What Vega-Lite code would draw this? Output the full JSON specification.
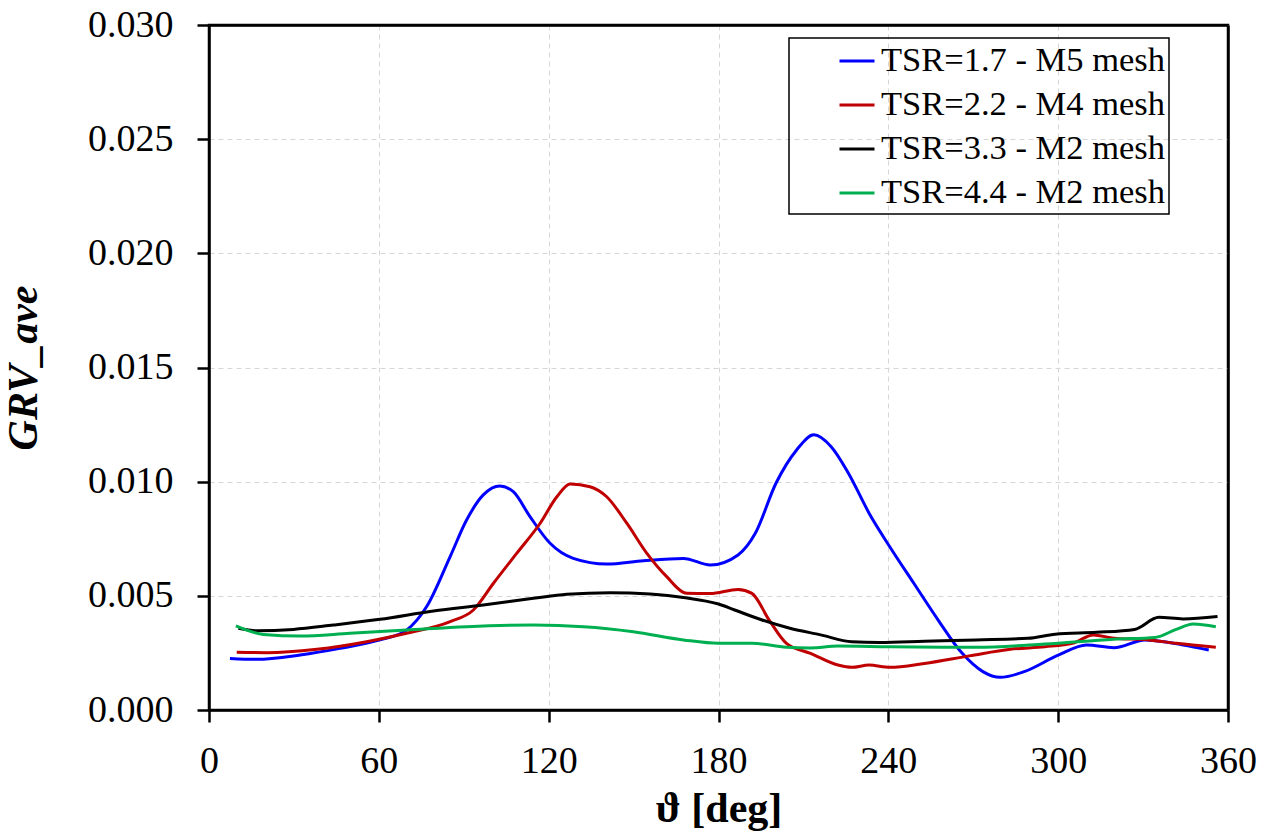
{
  "$schema": "https://vega.github.io/schema/vega-lite/v6.json",
  "width": 1019,
  "height": 685,
  "autosize": {"type": "none"},
  "padding": {"left": 209, "top": 25, "right": 49, "bottom": 126},
  "background": "white",
  "data": {"values": [
    {"s": "TSR=1.7 - M5 mesh", "x": 7.4, "y": 0.00226},
    {"s": "TSR=1.7 - M5 mesh", "x": 16.8, "y": 0.00222},
    {"s": "TSR=1.7 - M5 mesh", "x": 32.2, "y": 0.00241},
    {"s": "TSR=1.7 - M5 mesh", "x": 46.3, "y": 0.00270},
    {"s": "TSR=1.7 - M5 mesh", "x": 60.4, "y": 0.00307},
    {"s": "TSR=1.7 - M5 mesh", "x": 69.8, "y": 0.00350},
    {"s": "TSR=1.7 - M5 mesh", "x": 76.9, "y": 0.00453},
    {"s": "TSR=1.7 - M5 mesh", "x": 85.2, "y": 0.00672},
    {"s": "TSR=1.7 - M5 mesh", "x": 91.0, "y": 0.00832},
    {"s": "TSR=1.7 - M5 mesh", "x": 96.9, "y": 0.00942},
    {"s": "TSR=1.7 - M5 mesh", "x": 102.8, "y": 0.00981},
    {"s": "TSR=1.7 - M5 mesh", "x": 107.5, "y": 0.00956},
    {"s": "TSR=1.7 - M5 mesh", "x": 113.4, "y": 0.00847},
    {"s": "TSR=1.7 - M5 mesh", "x": 120.5, "y": 0.00730},
    {"s": "TSR=1.7 - M5 mesh", "x": 128.7, "y": 0.00664},
    {"s": "TSR=1.7 - M5 mesh", "x": 140.5, "y": 0.00639},
    {"s": "TSR=1.7 - M5 mesh", "x": 153.5, "y": 0.00654},
    {"s": "TSR=1.7 - M5 mesh", "x": 167.6, "y": 0.00664},
    {"s": "TSR=1.7 - M5 mesh", "x": 177.1, "y": 0.00635},
    {"s": "TSR=1.7 - M5 mesh", "x": 186.9, "y": 0.00679},
    {"s": "TSR=1.7 - M5 mesh", "x": 193.0, "y": 0.00774},
    {"s": "TSR=1.7 - M5 mesh", "x": 200.3, "y": 0.00993},
    {"s": "TSR=1.7 - M5 mesh", "x": 207.6, "y": 0.01139},
    {"s": "TSR=1.7 - M5 mesh", "x": 213.7, "y": 0.01205},
    {"s": "TSR=1.7 - M5 mesh", "x": 219.8, "y": 0.01153},
    {"s": "TSR=1.7 - M5 mesh", "x": 225.9, "y": 0.01037},
    {"s": "TSR=1.7 - M5 mesh", "x": 233.2, "y": 0.00862},
    {"s": "TSR=1.7 - M5 mesh", "x": 240.5, "y": 0.00715},
    {"s": "TSR=1.7 - M5 mesh", "x": 249.0, "y": 0.00555},
    {"s": "TSR=1.7 - M5 mesh", "x": 257.6, "y": 0.00394},
    {"s": "TSR=1.7 - M5 mesh", "x": 266.1, "y": 0.00248},
    {"s": "TSR=1.7 - M5 mesh", "x": 273.4, "y": 0.00168},
    {"s": "TSR=1.7 - M5 mesh", "x": 279.5, "y": 0.00143},
    {"s": "TSR=1.7 - M5 mesh", "x": 288.0, "y": 0.00168},
    {"s": "TSR=1.7 - M5 mesh", "x": 300.2, "y": 0.00241},
    {"s": "TSR=1.7 - M5 mesh", "x": 310.0, "y": 0.00285},
    {"s": "TSR=1.7 - M5 mesh", "x": 319.7, "y": 0.00273},
    {"s": "TSR=1.7 - M5 mesh", "x": 330.7, "y": 0.00307},
    {"s": "TSR=1.7 - M5 mesh", "x": 344.1, "y": 0.00285},
    {"s": "TSR=1.7 - M5 mesh", "x": 353.2, "y": 0.00263},

    {"s": "TSR=2.2 - M4 mesh", "x": 9.8, "y": 0.00253},
    {"s": "TSR=2.2 - M4 mesh", "x": 20.4, "y": 0.00251},
    {"s": "TSR=2.2 - M4 mesh", "x": 38.1, "y": 0.00266},
    {"s": "TSR=2.2 - M4 mesh", "x": 55.7, "y": 0.00299},
    {"s": "TSR=2.2 - M4 mesh", "x": 69.8, "y": 0.00336},
    {"s": "TSR=2.2 - M4 mesh", "x": 85.2, "y": 0.00387},
    {"s": "TSR=2.2 - M4 mesh", "x": 93.4, "y": 0.00438},
    {"s": "TSR=2.2 - M4 mesh", "x": 100.5, "y": 0.00555},
    {"s": "TSR=2.2 - M4 mesh", "x": 108.7, "y": 0.00686},
    {"s": "TSR=2.2 - M4 mesh", "x": 117.0, "y": 0.00818},
    {"s": "TSR=2.2 - M4 mesh", "x": 122.9, "y": 0.00934},
    {"s": "TSR=2.2 - M4 mesh", "x": 127.6, "y": 0.00990},
    {"s": "TSR=2.2 - M4 mesh", "x": 134.6, "y": 0.00978},
    {"s": "TSR=2.2 - M4 mesh", "x": 140.5, "y": 0.00934},
    {"s": "TSR=2.2 - M4 mesh", "x": 147.6, "y": 0.00818},
    {"s": "TSR=2.2 - M4 mesh", "x": 154.7, "y": 0.00686},
    {"s": "TSR=2.2 - M4 mesh", "x": 161.7, "y": 0.00584},
    {"s": "TSR=2.2 - M4 mesh", "x": 168.8, "y": 0.00511},
    {"s": "TSR=2.2 - M4 mesh", "x": 177.0, "y": 0.00510},
    {"s": "TSR=2.2 - M4 mesh", "x": 186.9, "y": 0.00528},
    {"s": "TSR=2.2 - M4 mesh", "x": 191.8, "y": 0.00511},
    {"s": "TSR=2.2 - M4 mesh", "x": 197.9, "y": 0.00394},
    {"s": "TSR=2.2 - M4 mesh", "x": 204.0, "y": 0.00292},
    {"s": "TSR=2.2 - M4 mesh", "x": 212.5, "y": 0.00248},
    {"s": "TSR=2.2 - M4 mesh", "x": 222.2, "y": 0.00197},
    {"s": "TSR=2.2 - M4 mesh", "x": 227.1, "y": 0.00187},
    {"s": "TSR=2.2 - M4 mesh", "x": 233.2, "y": 0.00197},
    {"s": "TSR=2.2 - M4 mesh", "x": 240.5, "y": 0.00187},
    {"s": "TSR=2.2 - M4 mesh", "x": 252.7, "y": 0.00204},
    {"s": "TSR=2.2 - M4 mesh", "x": 268.6, "y": 0.00237},
    {"s": "TSR=2.2 - M4 mesh", "x": 283.1, "y": 0.00266},
    {"s": "TSR=2.2 - M4 mesh", "x": 295.3, "y": 0.00277},
    {"s": "TSR=2.2 - M4 mesh", "x": 305.1, "y": 0.00292},
    {"s": "TSR=2.2 - M4 mesh", "x": 312.4, "y": 0.00329},
    {"s": "TSR=2.2 - M4 mesh", "x": 319.7, "y": 0.00314},
    {"s": "TSR=2.2 - M4 mesh", "x": 331.9, "y": 0.00307},
    {"s": "TSR=2.2 - M4 mesh", "x": 341.7, "y": 0.00292},
    {"s": "TSR=2.2 - M4 mesh", "x": 355.7, "y": 0.00275},

    {"s": "TSR=3.3 - M2 mesh", "x": 10.4, "y": 0.00358},
    {"s": "TSR=3.3 - M2 mesh", "x": 16.8, "y": 0.00347},
    {"s": "TSR=3.3 - M2 mesh", "x": 29.8, "y": 0.00353},
    {"s": "TSR=3.3 - M2 mesh", "x": 43.9, "y": 0.00372},
    {"s": "TSR=3.3 - M2 mesh", "x": 60.4, "y": 0.00397},
    {"s": "TSR=3.3 - M2 mesh", "x": 79.3, "y": 0.00434},
    {"s": "TSR=3.3 - M2 mesh", "x": 96.9, "y": 0.00460},
    {"s": "TSR=3.3 - M2 mesh", "x": 114.6, "y": 0.00489},
    {"s": "TSR=3.3 - M2 mesh", "x": 126.4, "y": 0.00507},
    {"s": "TSR=3.3 - M2 mesh", "x": 141.7, "y": 0.00514},
    {"s": "TSR=3.3 - M2 mesh", "x": 155.8, "y": 0.00508},
    {"s": "TSR=3.3 - M2 mesh", "x": 167.6, "y": 0.00493},
    {"s": "TSR=3.3 - M2 mesh", "x": 180.0, "y": 0.00464},
    {"s": "TSR=3.3 - M2 mesh", "x": 185.7, "y": 0.00438},
    {"s": "TSR=3.3 - M2 mesh", "x": 195.4, "y": 0.00394},
    {"s": "TSR=3.3 - M2 mesh", "x": 205.2, "y": 0.00358},
    {"s": "TSR=3.3 - M2 mesh", "x": 216.1, "y": 0.00329},
    {"s": "TSR=3.3 - M2 mesh", "x": 227.1, "y": 0.00299},
    {"s": "TSR=3.3 - M2 mesh", "x": 236.9, "y": 0.00296},
    {"s": "TSR=3.3 - M2 mesh", "x": 252.7, "y": 0.00301},
    {"s": "TSR=3.3 - M2 mesh", "x": 271.0, "y": 0.00307},
    {"s": "TSR=3.3 - M2 mesh", "x": 289.3, "y": 0.00314},
    {"s": "TSR=3.3 - M2 mesh", "x": 299.0, "y": 0.00332},
    {"s": "TSR=3.3 - M2 mesh", "x": 313.6, "y": 0.00340},
    {"s": "TSR=3.3 - M2 mesh", "x": 327.0, "y": 0.00353},
    {"s": "TSR=3.3 - M2 mesh", "x": 335.6, "y": 0.00406},
    {"s": "TSR=3.3 - M2 mesh", "x": 344.1, "y": 0.00399},
    {"s": "TSR=3.3 - M2 mesh", "x": 356.3, "y": 0.00409},

    {"s": "TSR=4.4 - M2 mesh", "x": 9.5, "y": 0.00368},
    {"s": "TSR=4.4 - M2 mesh", "x": 19.2, "y": 0.00331},
    {"s": "TSR=4.4 - M2 mesh", "x": 32.2, "y": 0.00324},
    {"s": "TSR=4.4 - M2 mesh", "x": 49.8, "y": 0.00336},
    {"s": "TSR=4.4 - M2 mesh", "x": 69.8, "y": 0.00350},
    {"s": "TSR=4.4 - M2 mesh", "x": 91.0, "y": 0.00365},
    {"s": "TSR=4.4 - M2 mesh", "x": 114.6, "y": 0.00372},
    {"s": "TSR=4.4 - M2 mesh", "x": 132.3, "y": 0.00365},
    {"s": "TSR=4.4 - M2 mesh", "x": 149.9, "y": 0.00343},
    {"s": "TSR=4.4 - M2 mesh", "x": 167.6, "y": 0.00307},
    {"s": "TSR=4.4 - M2 mesh", "x": 180.0, "y": 0.00292},
    {"s": "TSR=4.4 - M2 mesh", "x": 191.8, "y": 0.00292},
    {"s": "TSR=4.4 - M2 mesh", "x": 204.0, "y": 0.00275},
    {"s": "TSR=4.4 - M2 mesh", "x": 212.5, "y": 0.00272},
    {"s": "TSR=4.4 - M2 mesh", "x": 222.2, "y": 0.00280},
    {"s": "TSR=4.4 - M2 mesh", "x": 240.5, "y": 0.00277},
    {"s": "TSR=4.4 - M2 mesh", "x": 271.0, "y": 0.00275},
    {"s": "TSR=4.4 - M2 mesh", "x": 295.3, "y": 0.00289},
    {"s": "TSR=4.4 - M2 mesh", "x": 319.7, "y": 0.00310},
    {"s": "TSR=4.4 - M2 mesh", "x": 334.3, "y": 0.00318},
    {"s": "TSR=4.4 - M2 mesh", "x": 341.7, "y": 0.00353},
    {"s": "TSR=4.4 - M2 mesh", "x": 347.7, "y": 0.00377},
    {"s": "TSR=4.4 - M2 mesh", "x": 355.7, "y": 0.00365}
  ]},
  "layer": [
    {
      "mark": {"type": "line", "interpolate": "monotone", "strokeWidth": 3, "clip": true},
      "encoding": {
        "x": {
          "field": "x", "type": "quantitative",
          "scale": {"domain": [0, 360], "nice": false, "zero": false},
          "axis": {
            "values": [0, 60, 120, 180, 240, 300, 360],
            "title": "ϑ [deg]",
            "labelFlush": false,
            "labelPadding": 20,
            "titlePadding": 8
          }
        },
        "y": {
          "field": "y", "type": "quantitative",
          "scale": {"domain": [0, 0.03], "nice": false},
          "axis": {
            "values": [0, 0.005, 0.01, 0.015, 0.02, 0.025, 0.03],
            "format": ".3f",
            "title": "GRV_ave",
            "titleFontStyle": "italic",
            "labelFlush": false,
            "labelPadding": 24,
            "titlePadding": 42
          }
        },
        "color": {
          "field": "s", "type": "nominal",
          "scale": {
            "domain": ["TSR=1.7 - M5 mesh", "TSR=2.2 - M4 mesh", "TSR=3.3 - M2 mesh", "TSR=4.4 - M2 mesh"],
            "range": ["#0000ff", "#c00000", "#000000", "#00b050"]
          },
          "legend": {
            "title": null,
            "orient": "none",
            "legendX": 580,
            "legendY": 13,
            "strokeColor": "black",
            "padding": 4,
            "symbolOffset": 45,
            "symbolType": "stroke",
            "symbolSize": 1225,
            "symbolStrokeWidth": 3,
            "labelFont": "Liberation Serif",
            "labelFontSize": 34.5,
            "labelColor": "black",
            "labelOffset": 5,
            "rowPadding": 8,
            "labelLimit": 500,
            "labelExpr": "datum.label + '\u00a0\u00a0\u00a0\u00a0\u00a0'"
          }
        }
      }
    },
    {
      "mark": {"type": "line", "opacity": 0},
      "encoding": {
        "x": {
          "field": "x", "type": "quantitative",
          "axis": {"orient": "top", "labels": false, "ticks": false, "grid": false, "title": null, "domain": true}
        },
        "y": {
          "field": "y", "type": "quantitative",
          "axis": {"orient": "right", "labels": false, "ticks": false, "grid": false, "title": null, "domain": true}
        },
        "detail": {"field": "s"}
      }
    }
  ],
  "resolve": {"axis": {"x": "independent", "y": "independent"}},
  "config": {
    "view": {"stroke": "black", "strokeWidth": 2.5},
    "legend": {"strokeWidth": 1.5},
    "axis": {
      "domainColor": "black",
      "domainWidth": 2.5,
      "tickColor": "black",
      "tickWidth": 2.5,
      "tickSize": 12,
      "labelFont": "Liberation Serif",
      "labelFontSize": 38,
      "labelColor": "black",
      "titleFont": "Liberation Serif",
      "titleFontSize": 42,
      "titleFontWeight": "bold",
      "titleColor": "black",
      "grid": true,
      "gridColor": "#d6d6d6",
      "gridDash": [5, 4],
      "gridWidth": 1
    }
  }
}
